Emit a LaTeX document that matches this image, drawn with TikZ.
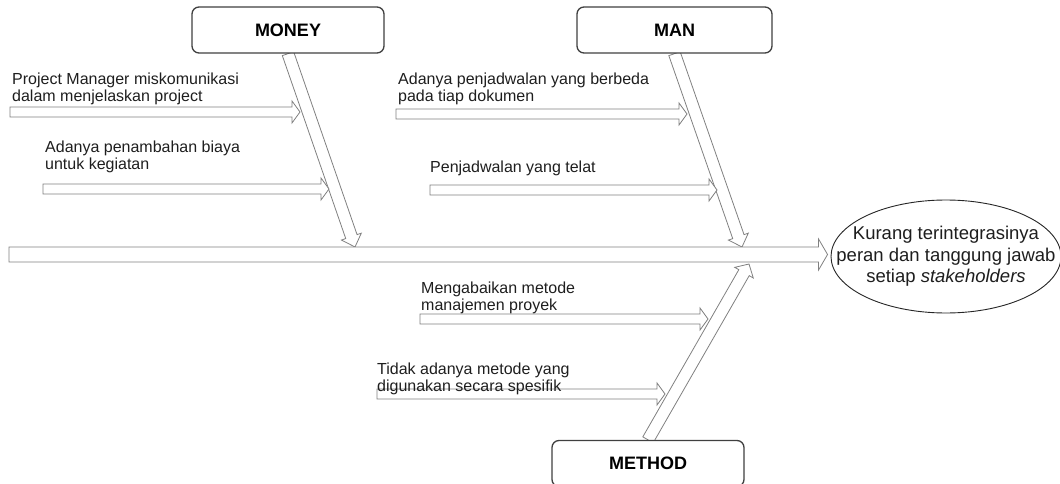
\documentclass[tikz,border=0pt]{standalone}
\usepackage{fontspec}
\setmainfont{Liberation Sans}
\usetikzlibrary{calc,shapes.geometric}
\pgfdeclarelayer{bonelayer}
\pgfsetlayers{bonelayer,main}
\definecolor{arrowgray}{RGB}{128,128,128}
\definecolor{boxgray}{RGB}{64,64,64}
\definecolor{textdark}{RGB}{30,30,30}
% block arrow: #1 start, #2 tip, #3 shaft half width, #4 head half width, #5 head length
\newcommand\blockarrow[5]{%
  \path ($(#2)!#5!(#1)$) coordinate (hb);
  \draw[arrowline] ($(#1)!#3!90:(#2)$) -- ($(hb)!#3!90:(#2)$) -- ($(hb)!#4!90:(#2)$) -- (#2)
    -- ($(hb)!#4!-90:(#2)$) -- ($(hb)!#3!-90:(#2)$) -- ($(#1)!#3!-90:(#2)$) -- cycle;
}
\begin{document}
\begin{tikzpicture}[x=1pt,y=-1pt,
  arrowline/.style={draw=arrowgray, line width=0.8pt, fill=white, line join=miter},
  catbox/.style={draw=boxgray, line width=1.3pt, rounded corners=7pt, fill=white,
    minimum width=192pt, minimum height=46pt, inner sep=0pt,
    font=\bfseries\fontsize{18}{20}\selectfont, text=black},
  causetext/.style={anchor=north west, inner sep=0pt, align=left, text=textdark,
    font=\fontsize{16}{17}\selectfont},
  effectshape/.style={ellipse, draw=black!85, line width=0.9pt, fill=white,
    minimum width=230pt, minimum height=113pt, inner sep=0pt},
  effecttext/.style={align=center, inner sep=0pt, text=textdark,
    font=\fontsize{18.5}{21.5}\selectfont}]
\useasboundingbox (0,0) rectangle (1060,484);

% effect
\node[effectshape] (effect) at (946,256.5) {};
\node[effecttext] (effectlabel) at (effect.center) {Kurang terintegrasinya\\peran dan tanggung jawab\\setiap \textit{stakeholders}};

% spine
\coordinate (spinestart) at (9,254.5);
\coordinate (spinetip) at ($(effect.west)+(-3,-2)$);
\blockarrow{spinestart}{spinetip}{7.5pt}{15.5pt}{9pt}

% category boxes
\node[catbox] (money) at (288,30) {MONEY};
\node[catbox, minimum width=195pt] (man) at (674.5,30) {MAN};
\node[catbox] (method) at (648,463.5) {METHOD};
\coordinate (moneytip) at (355,247);
\coordinate (mantip) at (742,247);
\coordinate (methodtip) at (749,264);

% bones (behind the boxes)
\begin{pgfonlayer}{bonelayer}
\blockarrow{money.south}{moneytip}{6pt}{10.5pt}{11pt}
\blockarrow{man.south}{mantip}{6pt}{10.5pt}{11pt}
\blockarrow{method.north}{methodtip}{6pt}{10.7pt}{10pt}
\end{pgfonlayer}

% sub causes
\coordinate (c1s) at (10,112);   \coordinate (c1t) at (300,112);
\coordinate (c2s) at (43,189);   \coordinate (c2t) at (329,189);
\coordinate (c3s) at (396,114);  \coordinate (c3t) at (687,114);
\coordinate (c4s) at (430,190);  \coordinate (c4t) at (717,190);
\coordinate (c5s) at (420,319);  \coordinate (c5t) at (708,319);
\coordinate (c6s) at (377,394);  \coordinate (c6t) at (665,394);
\blockarrow{c1s}{c1t}{5pt}{11pt}{8pt}
\blockarrow{c2s}{c2t}{5pt}{11pt}{8pt}
\blockarrow{c3s}{c3t}{5pt}{11pt}{8pt}
\blockarrow{c4s}{c4t}{5pt}{11pt}{8pt}
\blockarrow{c5s}{c5t}{5pt}{11pt}{8pt}
\blockarrow{c6s}{c6t}{5pt}{11pt}{8pt}

\node[causetext] (t1) at (12,73) {Project Manager miskomunikasi\\dalam menjelaskan project};
\node[causetext] (t2) at (45,141) {Adanya penambahan biaya\\untuk kegiatan};
\node[causetext] (t3) at (398,73) {Adanya penjadwalan yang berbeda\\pada tiap dokumen};
\node[causetext] (t4) at (430,161) {Penjadwalan yang telat};
\node[causetext] (t5) at (421,282) {Mengabaikan metode\\manajemen proyek};
\node[causetext] (t6) at (377,363) {Tidak adanya metode yang\\digunakan secara spesifik};
\end{tikzpicture}
\end{document}
